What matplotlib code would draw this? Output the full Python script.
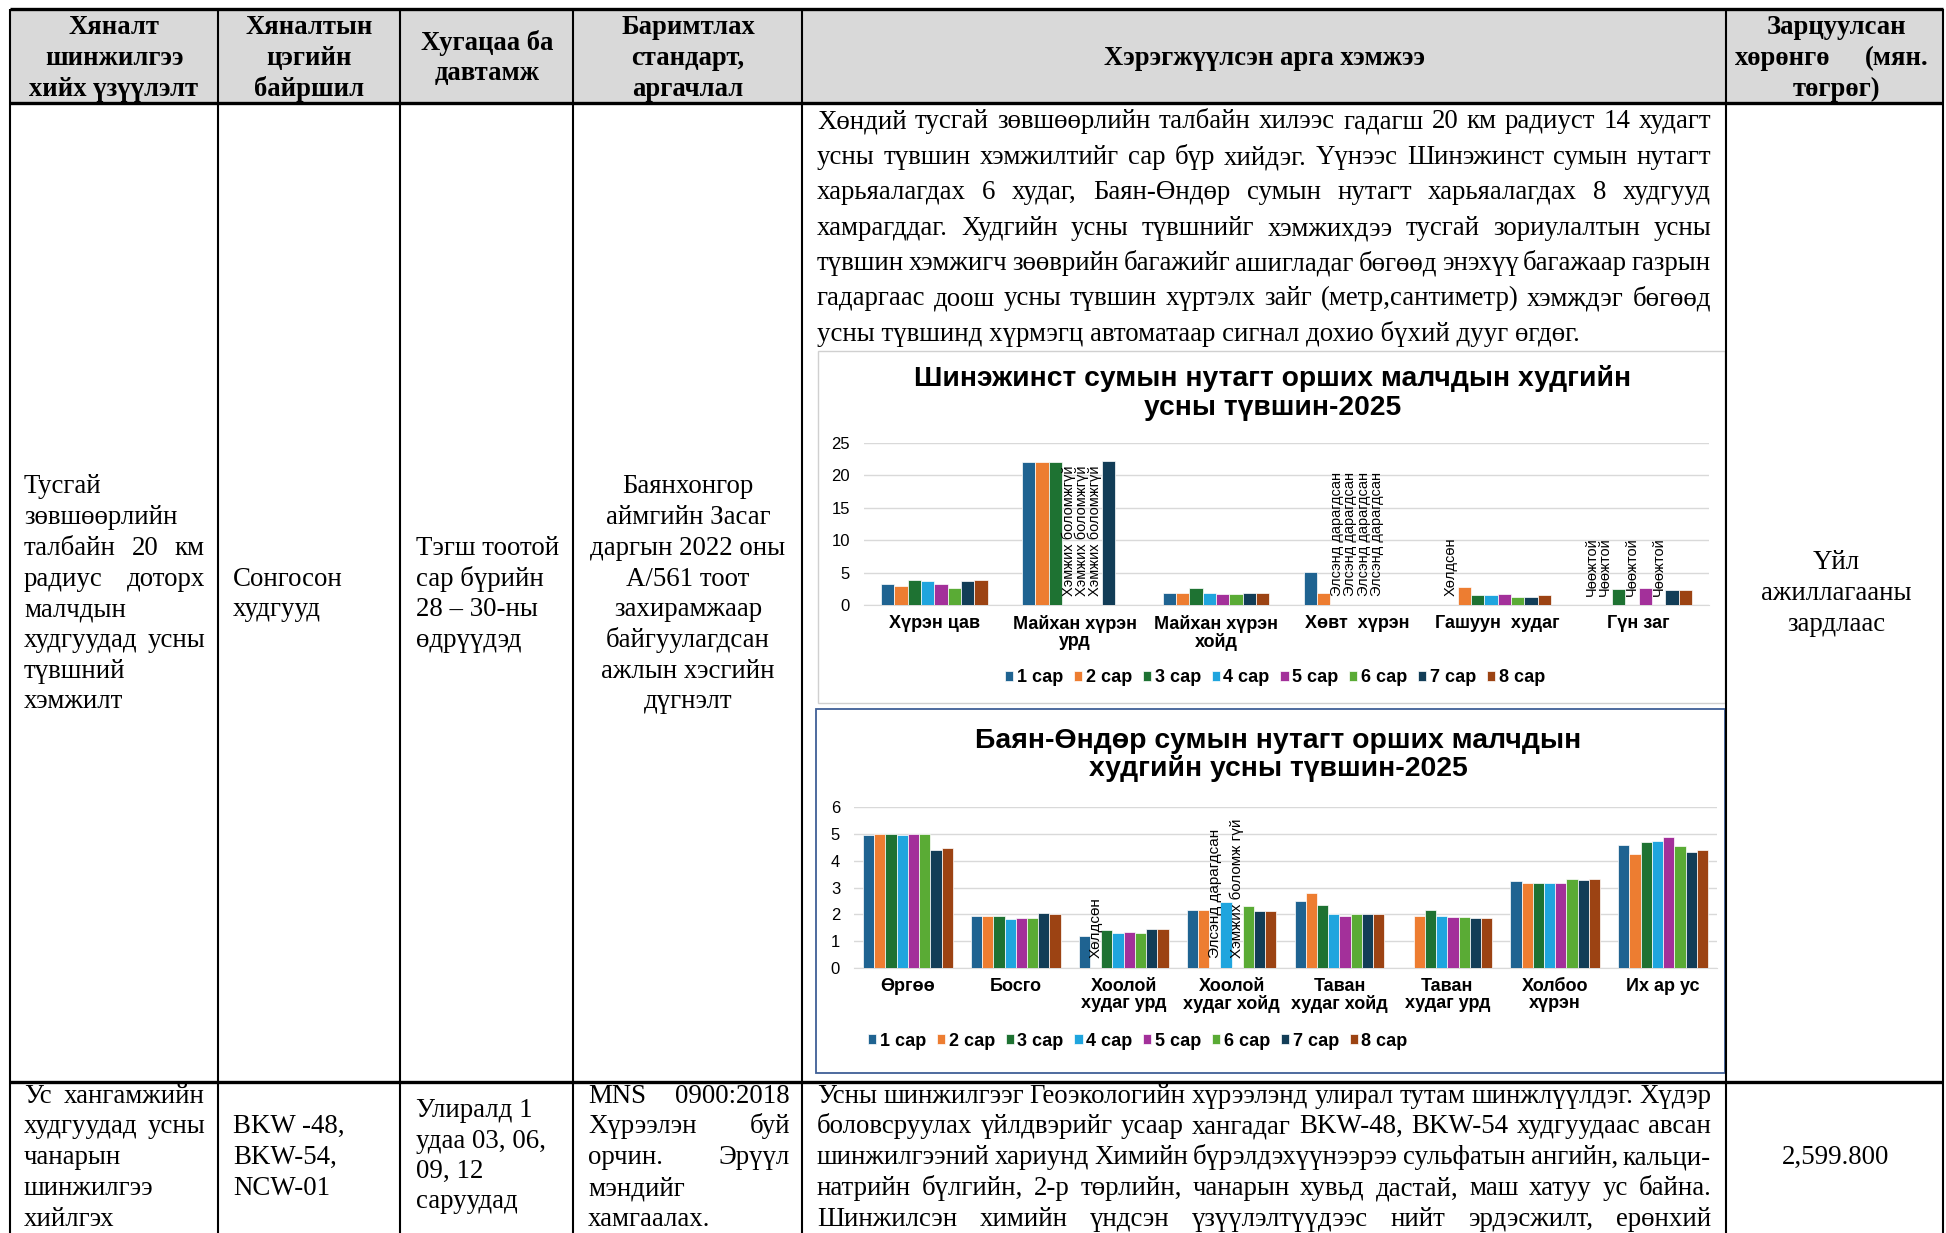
import matplotlib
matplotlib.use('Agg')
import matplotlib.pyplot as plt
from matplotlib.patches import Rectangle
import numpy as np

nan = np.nan
SERIF = ['Liberation Serif', 'DejaVu Serif']
SANS = ['Liberation Sans', 'DejaVu Sans']

# ---------------- data ----------------
months = ['1 сар', '2 сар', '3 сар', '4 сар', '5 сар', '6 сар', '7 сар', '8 сар']
month_colors = ['#1f6391', '#ed7d31', '#1e7232', '#1fa5de', '#a3309a', '#5aab35', '#123d57', '#9c4313']

HB = 'Хэмжих боломжгүй'
ED = 'Элсэнд дарагдсан'
HL = 'Хөлдсөн'
CH = 'Чөөжтой'

# Шинэжинст сум
shine_title = ['Шинэжинст сумын нутагт орших малчдын худгийн', 'усны түвшин-2025']
shine_wells = ['Хүрэн цав', 'Майхан хүрэн\nурд', 'Майхан хүрэн\nхойд', 'Хөвт  хүрэн', 'Гашуун  худаг', 'Гүн заг']
shine_levels = [
    [3.2, 3.0, 3.85, 3.65, 3.2, 2.6, 3.65, 3.85],
    [22.0, 22.0, 22.0, nan, nan, nan, 22.2, nan],
    [1.9, 1.9, 2.55, 1.9, 1.7, 1.7, 1.9, 1.9],
    [5.1, 1.9, nan, nan, nan, nan, nan, nan],
    [nan, 2.75, 1.5, 1.5, 1.7, 1.3, 1.3, 1.5],
    [nan, nan, 2.5, nan, 2.7, nan, 2.3, 2.3],
]
shine_notes = [
    ['', '', '', '', '', '', '', ''],
    ['', '', '', HB, HB, HB, '', ''],
    ['', '', '', '', '', '', '', ''],
    ['', '', ED, ED, ED, ED, '', ''],
    [HL, '', '', '', '', '', '', ''],
    [CH, CH, '', CH, '', CH, '', ''],
]

# Баян-Өндөр сум
bayan_title = ['Баян-Өндөр сумын нутагт орших малчдын', 'худгийн усны түвшин-2025']
bayan_wells = ['Өргөө', 'Босго', 'Хоолой\nхудаг урд', 'Хоолой\nхудаг хойд', 'Таван\nхудаг хойд',
               'Таван\nхудаг урд', 'Холбоо\nхүрэн', 'Их ар ус']
bayan_levels = [
    [4.95, 5.0, 5.0, 4.95, 5.0, 5.0, 4.41, 4.48],
    [1.95, 1.95, 1.95, 1.83, 1.88, 1.88, 2.04, 2.0],
    [1.18, nan, 1.4, 1.3, 1.35, 1.3, 1.46, 1.46],
    [2.16, 2.16, nan, 2.47, nan, 2.32, 2.11, 2.11],
    [2.49, 2.81, 2.33, 2.0, 1.95, 2.0, 2.0, 2.0],
    [nan, 1.95, 2.16, 1.95, 1.9, 1.9, 1.85, 1.85],
    [3.23, 3.18, 3.18, 3.18, 3.18, 3.33, 3.28, 3.33],
    [4.58, 4.25, 4.69, 4.74, 4.9, 4.53, 4.31, 4.41],
]
bayan_notes = [
    ['', '', '', '', '', '', '', ''],
    ['', '', '', '', '', '', '', ''],
    ['', HL, '', '', '', '', '', ''],
    ['', '', ED, '', 'Хэмжих боломж гүй', '', '', ''],
    ['', '', '', '', '', '', '', ''],
    ['', '', '', '', '', '', '', ''],
    ['', '', '', '', '', '', '', ''],
    ['', '', '', '', '', '', '', ''],
]

# table texts
header = [
    (114, ['Хяналт', 'шинжилгээ', 'хийх үзүүлэлт'], [26, 57, 88]),
    (309, ['Хяналтын', 'цэгийн', 'байршил'], [26, 57, 88]),
    (487, ['Хугацаа ба', 'давтамж'], [42, 72]),
    (688, ['Баримтлах', 'стандарт,', 'аргачлал'], [26, 57, 88]),
    (1264, ['Хэрэгжүүлсэн арга хэмжээ'], [57]),
    (1836, ['Зарцуулсан', None, 'төгрөг)'], [26, 57, 88]),
]

para1 = [
    'Хөндий тусгай зөвшөөрлийн  талбайн хилээс гадагш 20 км радиуст 14 худагт',
    'усны түвшин хэмжилтийг сар бүр хийдэг. Үүнээс Шинэжинст сумын нутагт',
    'харьяалагдах 6 худаг,  Баян-Өндөр сумын нутагт харьяалагдах 8 худгууд',
    'хамрагддаг. Худгийн усны түвшнийг хэмжихдээ тусгай зориулалтын усны',
    'түвшин хэмжигч зөөврийн багажийг ашигладаг бөгөөд энэхүү багажаар газрын',
    'гадаргаас доош усны түвшин хүртэлх зайг (метр,сантиметр) хэмждэг бөгөөд',
    'усны түвшинд хүрмэгц автоматаар сигнал дохио бүхий дууг өгдөг.',
]
para2 = [
    'Усны шинжилгээг Геоэкологийн хүрээлэнд улирал тутам шинжлүүлдэг. Хүдэр',
    'боловсруулах үйлдвэрийг усаар хангадаг BKW-48, BKW-54 худгуудаас авсан',
    'шинжилгээний хариунд Химийн бүрэлдэхүүнээрээ сульфатын ангийн, кальци-',
    'натрийн бүлгийн, 2-р төрлийн, чанарын хувьд дастай, маш хатуу ус байна.',
    'Шинжилсэн химийн үндсэн үзүүлэлтүүдээс нийт эрдэсжилт, ерөнхий',
]
row2_col1 = ['Тусгай', 'зөвшөөрлийн', 'талбайн  20  км', 'радиус  доторх', 'малчдын',
             'худгуудад усны', 'түвшний', 'хэмжилт']
row2_col1_just = [False, False, True, True, False, True, False, False]
row2_col2 = ['Сонгосон', 'худгууд']
row2_col3 = ['Тэгш тоотой', 'сар бүрийн', '28 – 30-ны', 'өдрүүдэд']
row2_col4 = ['Баянхонгор', 'аймгийн Засаг', 'даргын 2022 оны', 'А/561 тоот', 'захирамжаар',
             'байгуулагдсан', 'ажлын хэсгийн', 'дүгнэлт']
row2_col6 = ['Үйл', 'ажиллагааны', 'зардлаас']
row3_col1 = ['Ус хангамжийн', 'худгуудад усны', 'чанарын', 'шинжилгээ', 'хийлгэх']
row3_col1_just = [True, True, False, False, False]
row3_col2 = ['BKW -48,', 'BKW-54,', 'NCW-01']
row3_col3 = ['Улиралд 1', 'удаа 03, 06,', '09, 12', 'саруудад']
row3_col4 = ['MNS  0900:2018', 'Хүрээлэн  буй', 'орчин.  Эрүүл', 'мэндийг', 'хамгаалах.']
row3_col4_just = [True, True, True, False, False]
row3_col6 = '2,599.800'

# ---------------- figure ----------------
W, H = 1946, 1233
fig = plt.figure(figsize=(W / 100, H / 100), dpi=100)
base = fig.add_axes([0, 0, 1, 1])
base.set_xlim(0, W)
base.set_ylim(H, 0)
base.axis('off')
renderer = fig.canvas.get_renderer()


def put(x, y, s, size, ha='left', weight='normal', family=SERIF):
    # y is the visual middle of the line, text sits on a baseline below it
    return base.text(x, y + 0.3 * size * 100 / 72, s, ha=ha, va='baseline',
                     fontsize=size, fontweight=weight, family=family)


def justify(line, x0, x1, y, size, weight='normal'):
    words = line.split()
    items = [put(0, y, w, size, weight=weight) for w in words]
    widths = [t.get_window_extent(renderer).width for t in items]
    gap = (x1 - x0 - sum(widths)) / max(len(words) - 1, 1)
    x = x0
    for t, w in zip(items, widths):
        t.set_x(x)
        x += w + gap


TS = 19.4    # table text size
HS = 19.2    # header size

# header background and grid lines
base.add_patch(Rectangle((10, 9), 1933, 94, facecolor='#d9d9d9', edgecolor='none', zorder=0))
for xv in [10, 218, 400, 573, 802, 1726, 1943]:
    base.plot([xv, xv], [9, H], color='black', lw=1.5, solid_capstyle='butt')
for yh in [9, 103, 1082]:
    base.plot([10, 1943], [yh, yh], color='black', lw=2.4, solid_capstyle='butt')

# header texts
for cx, lines, ys in header:
    for s, y in zip(lines, ys):
        if s is None:
            justify('хөрөнгө  (мян.', 1735, 1928, y, HS, weight='bold')
        else:
            put(cx, y, s, HS, ha='center', weight='bold')

# row 2
ys8 = [485, 516, 547, 578, 608, 639, 670, 700]
for s, j, y in zip(row2_col1, row2_col1_just, ys8):
    if j:
        justify(s, 24, 205, y, TS)
    else:
        put(24, y, s, TS)
for s, y in zip(row2_col2, [578, 608]):
    put(233, y, s, TS)
for s, y in zip(row2_col3, [547, 578, 608, 639]):
    put(416, y, s, TS)
for s, y in zip(row2_col4, ys8):
    put(688, y, s, TS, ha='center')
for s, y in zip(row2_col6, [561, 592, 623]):
    put(1836, y, s, TS, ha='center')

ys_p1 = [120, 156, 191, 227, 262, 297, 333]
for i, (s, y) in enumerate(zip(para1, ys_p1)):
    if i < len(para1) - 1:
        justify(s, 817, 1711, y, TS)
    else:
        put(817, y, s, TS)

# row 3
ys5 = [1095, 1125, 1156, 1187, 1218]
for s, j, y in zip(row3_col1, row3_col1_just, ys5):
    if j:
        justify(s, 24, 205, y, TS)
    else:
        put(24, y, s, TS)
for s, y in zip(row3_col2, [1125, 1156, 1187]):
    put(233, y, s, TS)
for s, y in zip(row3_col3, [1109, 1140, 1170, 1200]):
    put(416, y, s, TS)
for s, j, y in zip(row3_col4, row3_col4_just, ys5):
    if j:
        justify(s, 588, 790, y, TS)
    else:
        put(588, y, s, TS)
for s, y in zip(para2, ys5):
    justify(s, 817, 1711, y, TS)
put(1836, 1156, row3_col6, TS, ha='center')

# chart frames
base.add_patch(Rectangle((818, 351), 907, 352, facecolor='white', edgecolor='#d0d0d0', lw=1, zorder=1))
base.add_patch(Rectangle((816, 709), 909, 364, facecolor='white', edgecolor='#3f5f96', lw=1.3, zorder=1))


def draw_chart(rect, wells, levels, notes, ymax, ystep, step, note_size, note_off):
    l, t, r, b = rect
    ax = fig.add_axes([l / W, 1 - b / H, (r - l) / W, (b - t) / H])
    ax.patch.set_visible(False)
    data = np.array(levels, dtype=float)
    n = len(wells)
    idx = np.arange(n)
    bars = []
    for m in range(8):
        xs = idx + (m - 3.5) * step
        bc = ax.bar(xs, data[:, m], width=step, color=month_colors[m],
                    edgecolor='white', linewidth=0.5, zorder=3)
        bars.append(bc)
        for i in range(n):
            if notes[i][m]:
                ax.annotate(notes[i][m], (xs[i], 0), xytext=(0, note_off),
                            textcoords='offset points', rotation=90, ha='center',
                            va='bottom', fontsize=note_size, family=SANS, zorder=4)
    ax.set_xlim(-0.5, n - 0.5)
    ax.set_ylim(0, ymax)
    ax.set_yticks(np.arange(0, ymax + 1, ystep))
    ax.yaxis.grid(True, color='#d9d9d9', lw=1)
    ax.set_axisbelow(True)
    for s in ['left', 'right', 'top']:
        ax.spines[s].set_visible(False)
    ax.spines['bottom'].set_color('#d9d9d9')
    ax.tick_params(length=0)
    ax.tick_params(axis='x', pad=7)
    ax.tick_params(axis='y', pad=10)
    ax.set_xticks(idx)
    ax.set_xticklabels(wells, fontweight='bold', fontsize=13, family=SANS, linespacing=1.0)
    for lab in ax.get_yticklabels():
        lab.set_fontsize(12)
        lab.set_family(SANS)
    return ax, bars


legend_prop = {'family': SANS, 'weight': 'bold', 'size': 13}

ax1, bars1 = draw_chart((864, 443, 1709, 605), shine_wells, shine_levels, shine_notes,
                        25, 5, 0.0945, 10.5, 6.5)
ax1.legend(bars1, months, loc='center', bbox_to_anchor=(1275 / W, 1 - 678 / H),
           bbox_transform=fig.transFigure, ncol=8, frameon=False, prop=legend_prop,
           handlelength=0.45, handleheight=0.45, handletextpad=0.2, columnspacing=0.6,
           borderpad=0, borderaxespad=0)
put(1273, 378, shine_title[0], 20.3, ha='center', weight='bold', family=SANS)
put(1273, 407, shine_title[1], 20.3, ha='center', weight='bold', family=SANS)

ax2, bars2 = draw_chart((854, 807, 1717, 968), bayan_wells, bayan_levels, bayan_notes,
                        6, 1, 0.104, 11, 7)
ax2.legend(bars2, months, loc='center left', bbox_to_anchor=(868 / W, 1 - 1041 / H),
           bbox_transform=fig.transFigure, ncol=8, frameon=False, prop=legend_prop,
           handlelength=0.45, handleheight=0.45, handletextpad=0.2, columnspacing=0.6,
           borderpad=0, borderaxespad=0)
put(1278, 740, bayan_title[0], 20.4, ha='center', weight='bold', family=SANS)
put(1278, 768, bayan_title[1], 20.4, ha='center', weight='bold', family=SANS)

fig.savefig('out.png', dpi=100)
